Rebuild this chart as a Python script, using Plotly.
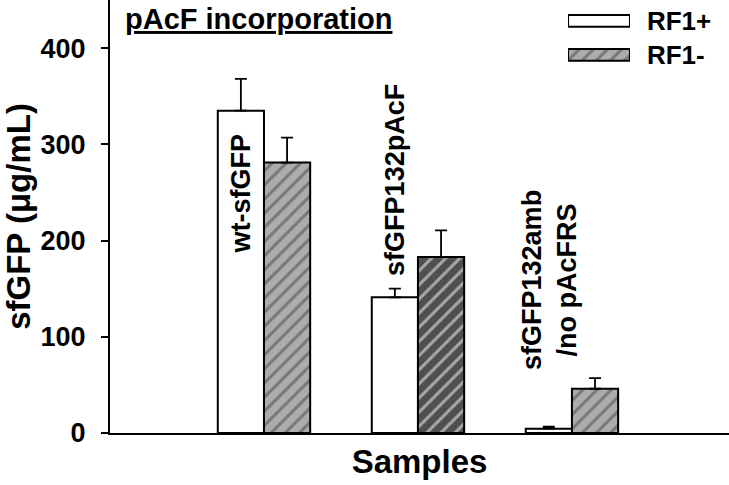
import plotly.graph_objects as go

samples = ["wt-sfGFP", "sfGFP132pAcF", "sfGFP132amb<br>/no pAcFRS"]
rf1_plus = [335, 141, 4.5]
rf1_plus_err = [33, 9, 2]
rf1_minus = [281, 183, 46]
rf1_minus_err = [26, 27.5, 11]
rf1_minus_colors = ["#acacac", "#4f4f4f", "#acacac"]
label_y = [249, 263, 159]
legend_names = ["RF1-", "RF1+"]

FONT = "Liberation Sans, Arial, sans-serif"
hatch = dict(shape="/", fillmode="overlay", fgcolor="black", size=10, solidity=0.3)

fig = go.Figure()
fig.add_trace(go.Bar(
    x=samples, y=rf1_plus, name="RF1+",
    marker=dict(color="white", line=dict(color="black", width=2)),
    error_y=dict(type="data", array=rf1_plus_err, arrayminus=[0] * 3, symmetric=False,
                 color="black", thickness=1.8, width=6),
))
fig.add_trace(go.Bar(
    x=samples, y=rf1_minus, name="RF1-",
    marker=dict(color=rf1_minus_colors, line=dict(color="black", width=2), pattern=hatch),
    error_y=dict(type="data", array=rf1_minus_err, arrayminus=[0] * 3, symmetric=False,
                 color="black", thickness=1.8, width=6),
))

# legend swatches drawn as a tiny horizontal bar chart
fig.add_trace(go.Bar(
    y=legend_names, x=[1, 1], orientation="h", xaxis="x2", yaxis="y2", width=0.35,
    marker=dict(color=["#acacac", "white"], line=dict(color="black", width=2),
                pattern=dict(shape=["/", ""], fillmode="overlay", fgcolor="black",
                             size=10, solidity=0.3)),
    hoverinfo="skip",
))

# rotated sample labels over the RF1+ bars
for s, ly in zip(samples, label_y):
    fig.add_annotation(x=s, y=ly, xshift=-23, text=s, textangle=-90, showarrow=False,
                       font=dict(family=FONT, size=27, color="black", weight="bold"),
                       xanchor="center", yanchor="middle")

fig.add_annotation(x=0.021, y=1, xref="paper", yref="paper", xanchor="left", yanchor="top",
                   yshift=-1, text="<u>pAcF incorporation</u>", showarrow=False,
                   font=dict(family=FONT, size=29, color="black", weight="bold"))

fig.update_layout(
    width=729, height=485,
    margin=dict(l=110, r=0, t=0, b=52),
    paper_bgcolor="white", plot_bgcolor="white",
    barmode="group", bargap=0.4, showlegend=False,
    font=dict(family=FONT, color="black"),
    xaxis=dict(range=[-1, 3.02], showticklabels=False, ticks="", showgrid=False,
               showline=True, linecolor="black", linewidth=2, zeroline=False,
               automargin=False,
               title=dict(text="Samples", standoff=16,
                          font=dict(size=33, family=FONT, weight="bold"))),
    yaxis=dict(range=[0, 450], tickvals=[0, 100, 200, 300, 400], ticks="outside",
               ticklen=7, tickwidth=2, tickcolor="black", showgrid=False,
               showline=True, linecolor="black", linewidth=2, zeroline=False,
               automargin=False, ticklabelstandoff=10,
               tickfont=dict(size=27, family=FONT, weight="bold"),
               title=dict(text="sfGFP (μg/mL)", standoff=4,
                          font=dict(size=33, family=FONT, weight="bold"))),
    xaxis2=dict(domain=[0.740, 0.840], range=[0, 1], visible=False, anchor="y2",
                automargin=False),
    yaxis2=dict(domain=[0.834, 0.991], anchor="x2", side="right", showline=False,
                showgrid=False, zeroline=False, ticks="", ticklabelstandoff=16,
                automargin=False,
                tickfont=dict(size=26, family=FONT, weight="bold")),
)

# the page body has a default 8px margin; remove it so the figure sits at 0,0
fig.write_html("out.html", config={"displayModeBar": False},
               post_script="document.body.style.margin='0';")
